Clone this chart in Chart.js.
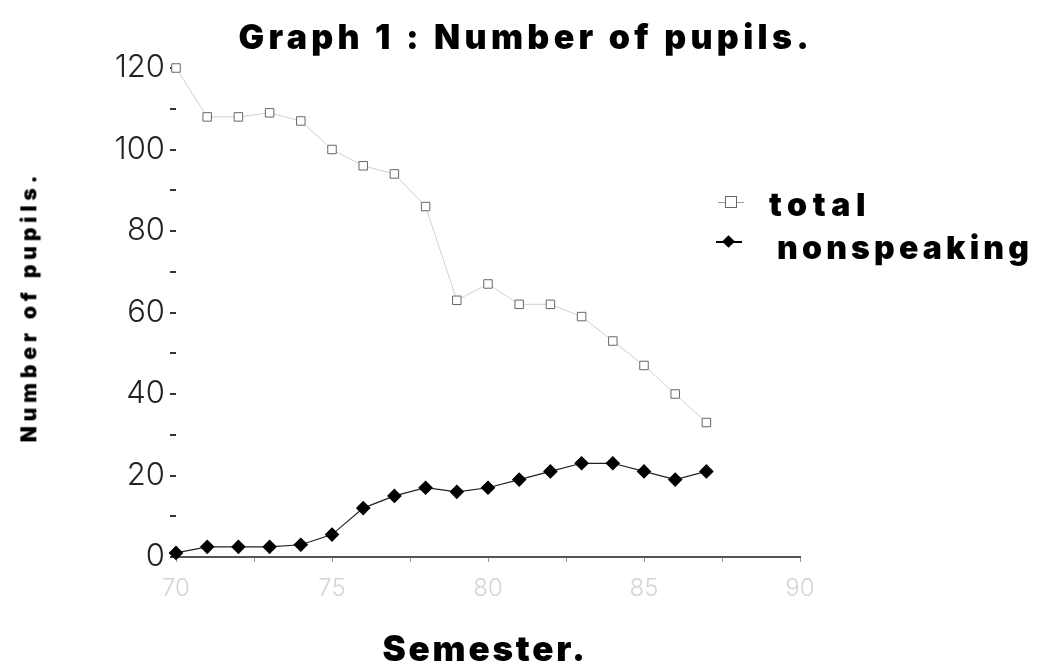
<!DOCTYPE html>
<html>
<head>
<meta charset="utf-8">
<script src="https://cdn.jsdelivr.net/npm/chart.js@4.4.1/dist/chart.umd.min.js"></script>
<style>
  body { margin: 0; background: #fff; }
  #wrap { position: relative; width: 1038px; height: 664px; overflow: hidden; }
  #chart { position: absolute; left: 0; top: 0; }
  .heavy {
    position: absolute;
    font-family: "Inter", "DejaVu Sans", sans-serif;
    font-weight: 900;
    color: #000;
    white-space: nowrap;
    line-height: 1;
  }
  .legend-item { position: absolute; height: 20px; }
  .legend-line { position: absolute; left: 0; top: 9px; width: 26px; height: 2px; }
  .mark-rect { position: absolute; left: 7px; top: 4px; width: 10px; height: 10px; border: 1px solid #666; background: #fff; }
  .mark-diamond { position: absolute; left: 8px; top: 5px; width: 9px; height: 9px; background: #000; transform: rotate(45deg); }
</style>
</head>
<body>
<div id="wrap">
  <canvas id="chart" width="1038" height="664"></canvas>

  <div id="title" class="heavy">Graph 1 : Number of pupils.</div>
  <div id="ytitle" class="heavy">Number of pupils.</div>
  <div id="xtitle" class="heavy">Semester.</div>

  <div class="legend-item" style="left:718px; top:192px; width:28px;">
    <div class="legend-line" style="background:#999; height:1px; top:10px;"></div>
    <div class="mark-rect"></div>
  </div>
  <div id="legTotal" class="heavy">total</div>

  <div class="legend-item" style="left:716px; top:232px; width:28px;">
    <div class="legend-line" style="background:#000;"></div>
    <div class="mark-diamond"></div>
  </div>
  <div id="legNon" class="heavy">nonspeaking</div>
</div>

<script>
// data
const semesters   = [70, 71, 72, 73, 74, 75, 76, 77, 78, 79, 80, 81, 82, 83, 84, 85, 86, 87];
const total       = [120, 108, 108, 109, 107, 100, 96, 94, 86, 63, 67, 62, 62, 59, 53, 47, 40, 33];
const nonspeaking = [1, 2.5, 2.5, 2.5, 3, 5.5, 12, 15, 17, 16, 17, 19, 21, 23, 23, 21, 19, 21];
const xTickLabels = [70, 75, 80, 85, 90];
const yTickLabels = [0, 20, 40, 60, 80, 100, 120];

// stretch a heavy text block to a given width and put its centre at cx, cy
function placeText(id, size, width, cx, cy, rotate) {
  const el = document.getElementById(id);
  el.style.fontSize = size + 'px';
  el.style.letterSpacing = '0px';
  const natural = el.offsetWidth;
  const n = el.textContent.length;
  el.style.letterSpacing = ((width - natural) / n) + 'px';
  const w = el.offsetWidth, h = el.offsetHeight;
  el.style.left = (cx - w / 2) + 'px';
  el.style.top = (cy - h / 2) + 'px';
  if (rotate) el.style.transform = 'rotate(-90deg)';
}

placeText('title', 34, 575, 526, 37);
placeText('xtitle', 35, 205, 485, 648);
placeText('ytitle', 21, 272, 29, 306, true);
placeText('legTotal', 32, 102, 820, 205);
placeText('legNon', 32, 256, 905, 248);

const points = (vals) => semesters.map((s, i) => ({ x: s, y: vals[i] }));

new Chart(document.getElementById('chart'), {
  type: 'line',
  data: {
    datasets: [
      {
        label: 'total',
        data: points(total),
        borderColor: '#d0d0d0',
        borderWidth: 1,
        pointStyle: 'rect',
        pointRadius: 6,
        pointBackgroundColor: '#fff',
        pointBorderColor: '#666',
        pointBorderWidth: 1,
        tension: 0
      },
      {
        label: 'nonspeaking',
        data: points(nonspeaking),
        borderColor: '#222',
        borderWidth: 1.2,
        pointStyle: 'rectRot',
        pointRadius: 6.5,
        pointBackgroundColor: '#000',
        pointBorderColor: '#000',
        tension: 0
      }
    ]
  },
  options: {
    responsive: false,
    animation: false,
    clip: false,
    layout: { padding: { left: 0, right: 238, top: 68, bottom: 0 } },
    plugins: {
      legend: { display: false },
      tooltip: { enabled: false }
    },
    scales: {
      x: {
        type: 'linear',
        min: 70,
        max: 90,
        afterFit: (s) => { s.height = 107; },
        border: { display: true, color: '#555', width: 2 },
        grid: { drawOnChartArea: false, drawTicks: true, tickLength: 5, color: '#999' },
        ticks: {
          stepSize: 2.5,
          autoSkip: false,
          maxRotation: 0,
          padding: 12,
          color: '#d4d4d4',
          font: { family: 'Inter', size: 24, weight: '300' },
          callback: (v) => xTickLabels.includes(v) ? v : ''
        }
      },
      y: {
        min: 0,
        max: 120,
        afterFit: (s) => { s.width = 176; },
        border: { display: false },
        grid: { drawOnChartArea: false, drawTicks: true, tickLength: 6, color: '#333', lineWidth: 2 },
        ticks: {
          stepSize: 10,
          autoSkip: false,
          padding: 5,
          color: '#222',
          font: { family: 'Inter', size: 31, weight: '300' },
          callback: (v) => yTickLabels.includes(v) ? v : ''
        }
      }
    }
  }
});
</script>
</body>
</html>
